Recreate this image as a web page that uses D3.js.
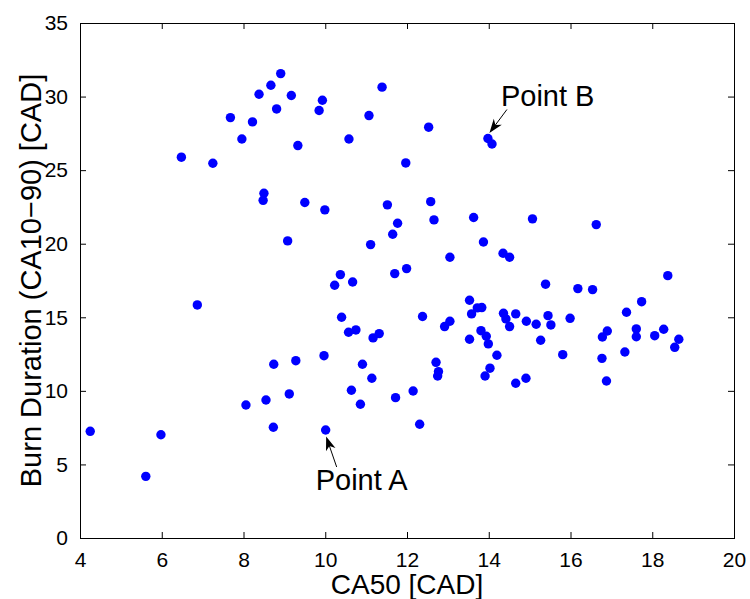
<!DOCTYPE html>
<html>
<head>
<meta charset="utf-8">
<script src="https://cdn.jsdelivr.net/npm/d3@7"></script>
<style>
  html, body { margin: 0; padding: 0; background: #fff; }
  svg { display: block; }
  text { font-family: "Liberation Sans", Arial, Helvetica, sans-serif; fill: #000; }
</style>
</head>
<body>
<svg id="chart" width="750" height="599"></svg>
<script>
// CA50 [CAD] for each cycle
const ca50 = [
  6.48, 7.25, 7.68, 7.96, 8.22, 8.38, 8.67, 8.91, 8.81, 9.17,
  9.33, 9.85, 9.93, 10.58, 11.07, 11.39, 11.97, 8.50, 8.48, 9.50,
  9.99, 11.52, 11.77, 11.65, 9.08, 11.11, 10.37, 10.67, 11.70, 11.99,
  12.53, 13.98, 14.08, 12.58, 12.66, 13.63, 15.07, 16.63, 13.87, 14.35,
  14.51, 13.05, 18.38, 4.25, 5.61, 5.98, 6.87, 8.06, 8.55, 8.74,
  8.73, 9.12, 9.28, 9.97, 10.01, 10.23, 10.40, 10.57, 10.75, 11.17,
  11.32, 10.91, 11.14, 10.64, 10.86, 11.72, 12.15, 12.31, 12.38, 12.71,
  12.77, 12.75, 12.92, 13.05, 13.53, 13.58, 13.53, 13.72, 13.83, 13.81,
  13.94, 13.99, 14.20, 14.03, 13.91, 14.36, 14.42, 14.51, 14.66, 14.66,
  14.92, 14.91, 15.16, 15.27, 15.39, 15.45, 15.52, 15.81, 15.99, 16.18,
  16.54, 16.78, 16.90, 16.77, 16.88, 17.33, 17.37, 17.61, 17.61, 17.74,
  18.06, 18.28, 18.55, 18.65
];

// Burn duration CA10-90 [CAD] for each cycle
const burnDuration = [
  25.88, 25.47, 28.57, 27.12, 28.28, 30.16, 30.77, 31.56, 29.16, 30.07,
  26.67, 29.05, 29.75, 27.12, 28.71, 30.64, 25.49, 23.43, 22.95, 22.80,
  22.30, 22.64, 21.39, 20.64, 20.19, 19.94, 17.90, 17.40, 17.97, 18.31,
  27.92, 27.15, 26.78, 22.86, 21.62, 21.78, 21.69, 21.30, 20.12, 19.35,
  19.08, 19.08, 17.83, 7.25, 4.19, 7.02, 15.84, 9.04, 9.38, 11.81,
  7.53, 9.79, 12.05, 12.39, 7.34, 17.18, 15.00, 13.98, 14.14, 13.60,
  13.89, 11.81, 10.86, 10.04, 9.09, 9.54, 9.99, 7.73, 15.05, 11.94,
  11.31, 11.01, 14.37, 14.73, 16.16, 15.23, 13.51, 15.64, 15.66, 14.09,
  13.71, 13.19, 12.42, 11.54, 11.01, 15.27, 14.89, 14.37, 15.23, 10.52,
  14.73, 10.86, 14.53, 13.44, 17.25, 15.11, 14.48, 12.46, 14.93, 16.95,
  16.88, 13.66, 14.07, 12.21, 10.67, 12.64, 15.34, 14.21, 13.68, 16.06,
  13.75, 14.19, 12.96, 13.51
];

// Axis tick values
const xTicks = [4, 6, 8, 10, 12, 14, 16, 18, 20];
const yTicks = [0, 5, 10, 15, 20, 25, 30, 35];

// Annotated cycles (index into the data arrays)
const annotationLabels = ["Point A", "Point B"];
const annotationIndex = [54, 31];

const svg = d3.select("#chart");
const margin = { left: 80, right: 16, top: 23, bottom: 61 };
const W = 750, H = 599;
const x0 = margin.left, x1 = W - margin.right;
const y0 = H - margin.bottom, y1 = margin.top;

const x = d3.scaleLinear().domain([4, 20]).range([x0, x1]);
const y = d3.scaleLinear().domain([0, 35]).range([y0, y1]);

const tickLen = 6;
const tickFont = 21;

// Bottom axis with labels, ticks pointing inward
const gxB = svg.append("g").attr("transform", `translate(0,${y0})`)
  .call(d3.axisBottom(x).tickValues(xTicks).tickFormat(d3.format("d"))
    .tickSizeInner(-tickLen).tickSizeOuter(0).tickPadding(tickLen + 8));
// Top axis: ticks only
const gxT = svg.append("g").attr("transform", `translate(0,${y1})`)
  .call(d3.axisTop(x).tickValues(xTicks).tickFormat("")
    .tickSizeInner(-tickLen).tickSizeOuter(0));
// Left axis with labels
const gyL = svg.append("g").attr("transform", `translate(${x0},0)`)
  .call(d3.axisLeft(y).tickValues(yTicks).tickFormat(d3.format("d"))
    .tickSizeInner(-tickLen).tickSizeOuter(0).tickPadding(tickLen + 6));
// Right axis: ticks only
const gyR = svg.append("g").attr("transform", `translate(${x1},0)`)
  .call(d3.axisRight(y).tickValues(yTicks).tickFormat("")
    .tickSizeInner(-tickLen).tickSizeOuter(0));

[gxB, gxT, gyL, gyR].forEach(g => {
  g.select(".domain").remove();
  g.selectAll(".tick line").attr("stroke", "#000").attr("stroke-width", 1);
  g.selectAll(".tick text")
    .attr("font-family", '"Liberation Sans", Arial, Helvetica, sans-serif')
    .attr("font-size", tickFont).attr("fill", "#000");
});

// Axes box
svg.append("rect")
  .attr("x", x0 + 0.5).attr("y", y1 + 0.5)
  .attr("width", x1 - x0).attr("height", y0 - y1)
  .attr("fill", "none").attr("stroke", "#000").attr("stroke-width", 1);

// Scatter points
const pts = ca50.map((v, i) => ({ ca50: v, bd: burnDuration[i] }));
svg.append("g").selectAll("circle").data(pts).join("circle")
  .attr("cx", d => x(d.ca50))
  .attr("cy", d => y(d.bd))
  .attr("r", 4.7)
  .attr("fill", "#0000ff");

// Axis titles
svg.append("text")
  .attr("x", (x0 + x1) / 2).attr("y", 594)
  .attr("text-anchor", "middle").attr("font-size", 28)
  .text("CA50 [CAD]");
svg.append("text")
  .attr("transform", `translate(41,${(y0 + y1) / 2}) rotate(-90)`)
  .attr("text-anchor", "middle").attr("font-size", 29)
  .text("Burn Duration (CA10\u221290) [CAD]");

// Arrow annotations: label offset, arrow tail and head offsets relative to the marked point
const annotationOffsets = [
  { tx: -10, ty: 60, ax: 11, ay: 37, hx: 0.5, hy: 6.5 },
  { tx: 13, ty: -33, ax: 19, ay: -29, hx: 1.5, hy: -5.5 }
];

function arrowHead(hx, hy, tx, ty) {
  const ang = Math.atan2(hy - ty, hx - tx);
  const len = 14, half = 5, back = 10;
  const c = Math.cos(ang), s = Math.sin(ang);
  const p = (u, v) => [hx - u * c - v * s, hy - u * s + v * c];
  const a = p(len, half), b = p(back, 0), d = p(len, -half);
  return `M${hx},${hy}L${a[0]},${a[1]}L${b[0]},${b[1]}L${d[0]},${d[1]}Z`;
}

annotationLabels.forEach((label, k) => {
  const i = annotationIndex[k];
  const px = x(ca50[i]), py = y(burnDuration[i]);
  const o = annotationOffsets[k];
  const hx = px + o.hx, hy = py + o.hy;
  const tx = px + o.ax, ty = py + o.ay;
  const ang = Math.atan2(hy - ty, hx - tx);
  svg.append("line")
    .attr("x1", tx).attr("y1", ty)
    .attr("x2", hx - 10 * Math.cos(ang)).attr("y2", hy - 10 * Math.sin(ang))
    .attr("stroke", "#000").attr("stroke-width", 1);
  svg.append("path").attr("d", arrowHead(hx, hy, tx, ty)).attr("fill", "#000");
  svg.append("text")
    .attr("x", px + o.tx).attr("y", py + o.ty)
    .attr("font-size", 29)
    .text(label);
});
</script>
</body>
</html>
